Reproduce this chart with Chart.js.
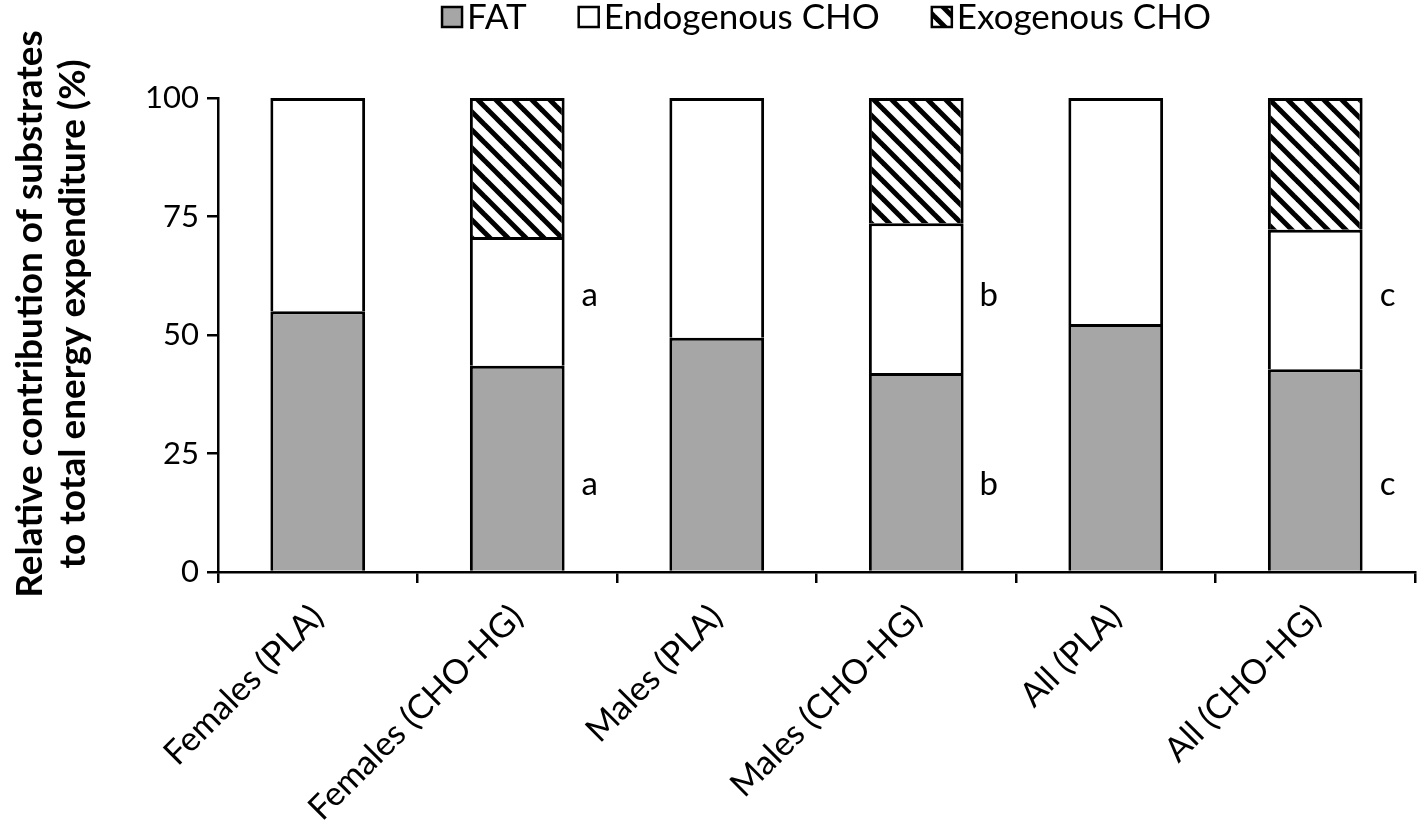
<!DOCTYPE html>
<html>
<head>
<meta charset="utf-8">
<script src="https://cdn.jsdelivr.net/npm/chart.js@4"></script>
<style>
  html, body { margin: 0; padding: 0; background: #fff; }
  canvas { display: block; }
</style>
</head>
<body>
<canvas id="c" width="1417" height="840"></canvas>
<script>
// ---- data ----
const categories = ['Females (PLA)', 'Females (CHO-HG)', 'Males (PLA)', 'Males (CHO-HG)', 'All (PLA)', 'All (CHO-HG)'];
const seriesNames = ['FAT', 'Endogenous CHO', 'Exogenous CHO'];
const fat = [55.0, 43.5, 49.4, 42.0, 52.3, 42.8];
const endogenous = [45.0, 27.2, 50.6, 31.6, 47.7, 29.4];
const exogenous = [null, 29.3, null, 26.4, null, 27.8];
const yTicks = [0, 25, 50, 75, 100];
const sigLetters = ['', 'a', '', 'b', '', 'c'];
const sigLevels = [58, 18];
const yTitle = ['Relative contribution of substrates', 'to total energy expenditure (%)'];

const FONT = 'Lato, "Open Sans", sans-serif';

function makeHatch() {
  const s = 18;
  const c = document.createElement('canvas');
  c.width = s; c.height = s;
  const g = c.getContext('2d');
  g.fillStyle = '#fff';
  g.fillRect(0, 0, s, s);
  g.strokeStyle = '#000';
  g.lineWidth = 5;
  for (let k = -1; k <= 1; k++) {
    g.beginPath();
    g.moveTo(k * s - 2, -2);
    g.lineTo(k * s + s + 2, s + 2);
    g.stroke();
  }
  return g.createPattern(c, 'repeat');
}
const hatch = makeHatch();

const fills = ['#a6a6a6', '#ffffff', hatch];

const legendPlugin = {
  id: 'customLegend',
  afterDraw(chart) {
    const ctx = chart.ctx;
    ctx.save();
    ctx.font = '35px ' + FONT;
    ctx.textBaseline = 'middle';
    const box = 20, gapText = 5, gapItem = 52;
    const items = chart.data.datasets.map(d => ({ label: d.label, fill: d.backgroundColor }));
    let total = 0;
    items.forEach((it, i) => {
      it.w = ctx.measureText(it.label).width;
      total += box + gapText + it.w + (i < items.length - 1 ? gapItem : 0);
    });
    const ca = chart.chartArea;
    let x = (ca.left + ca.right) / 2 - total / 2 + 10;
    const y = 17;
    items.forEach(it => {
      ctx.fillStyle = it.fill;
      ctx.fillRect(x, y - box / 2, box, box);
      ctx.lineWidth = 2.5;
      ctx.strokeStyle = '#000';
      ctx.strokeRect(x, y - box / 2, box, box);
      ctx.fillStyle = '#000';
      ctx.textAlign = 'left';
      ctx.fillText(it.label, x + box + gapText, y + 1);
      x += box + gapText + it.w + gapItem;
    });
    ctx.restore();
  }
};

const titlePlugin = {
  id: 'yTitle',
  afterDraw(chart) {
    const ctx = chart.ctx;
    ctx.save();
    ctx.font = 'bold 37px ' + FONT;
    ctx.fillStyle = '#000';
    ctx.textAlign = 'center';
    ctx.textBaseline = 'middle';
    ctx.translate(0, 314);
    ctx.rotate(-Math.PI / 2);
    ctx.fillText(yTitle[0], 0, 30);
    ctx.fillText(yTitle[1], 0, 73);
    ctx.restore();
  }
};

const sigPlugin = {
  id: 'sigLetters',
  afterDatasetsDraw(chart) {
    const ctx = chart.ctx;
    const meta = chart.getDatasetMeta(0);
    const ys = chart.scales.y;
    ctx.save();
    ctx.font = '33px ' + FONT;
    ctx.fillStyle = '#000';
    ctx.textAlign = 'center';
    ctx.textBaseline = 'middle';
    sigLetters.forEach((L, i) => {
      if (!L) return;
      const bar = meta.data[i];
      const x = bar.x + bar.width / 2 + 25;
      sigLevels.forEach(v => ctx.fillText(L, x, ys.getPixelForValue(v) - 2));
    });
    ctx.restore();
  }
};

new Chart(document.getElementById('c'), {
  type: 'bar',
  data: {
    labels: categories,
    datasets: [
      { label: seriesNames[0], data: fat, backgroundColor: fills[0] },
      { label: seriesNames[1], data: endogenous, backgroundColor: fills[1] },
      { label: seriesNames[2], data: exogenous, backgroundColor: fills[2] }
    ].map(d => Object.assign(d, {
      borderColor: '#000', borderWidth: 3, categoryPercentage: 1, barPercentage: 0.475
    }))
  },
  options: {
    responsive: false,
    animation: false,
    layout: { padding: { top: 98, right: 2, left: 0, bottom: 0 } },
    plugins: { legend: { display: false }, tooltip: { enabled: false } },
    scales: {
      x: {
        stacked: true,
        border: { color: '#000', width: 2.5 },
        grid: { display: true, drawOnChartArea: false, drawTicks: true, tickLength: 11, color: '#000', lineWidth: 2.5, offset: true },
        ticks: { color: '#000', font: { family: FONT, size: 34 }, maxRotation: 45, minRotation: 45, padding: 14 },
        afterFit(s) { s.height = 268; }
      },
      y: {
        stacked: true,
        min: 0, max: 100,
        border: { color: '#000', width: 2.5 },
        grid: { display: true, drawOnChartArea: false, drawTicks: true, tickLength: 11, color: '#000', lineWidth: 2.5 },
        ticks: { color: '#000', font: { family: FONT, size: 31 }, padding: 8, stepSize: 25 },
        afterBuildTicks(s) { s.ticks = yTicks.map(v => ({ value: v })); },
        afterFit(s) { s.width = 218; }
      }
    }
  },
  plugins: [legendPlugin, titlePlugin, sigPlugin]
});
</script>
</body>
</html>
